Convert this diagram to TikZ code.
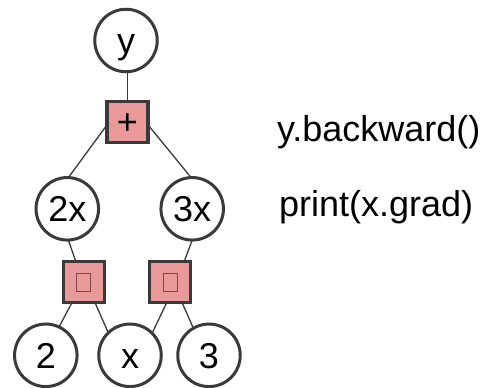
\documentclass[tikz,border=0pt]{standalone}
\usepackage{fontspec}
\setmainfont{Liberation Sans}
\definecolor{edgegray}{HTML}{3A3A3A}
\definecolor{opfill}{HTML}{EA9999}
\definecolor{markline}{HTML}{7A4A4A}
\begin{document}
\begin{tikzpicture}[x=1bp,y=-1bp,
  every node/.style={inner sep=0pt,outer sep=0pt,font=\fontsize{36bp}{43bp}\selectfont},
  valnode/.style={circle,draw=edgegray,line width=3bp,fill=white,minimum size=62.5bp,
    text height=25.8bp,text depth=0bp},
  opnode/.style={rectangle,draw=edgegray,line width=3.2bp,fill=opfill,minimum size=41bp,
    text height=25.8bp,text depth=0bp},
  opmark/.style={rectangle,draw=markline,line width=0.9bp,minimum width=14bp,minimum height=18bp},
  link/.style={draw=edgegray,line width=1.3bp},
  codeline/.style={anchor=base west}]
\useasboundingbox (0,0) rectangle (489,387);

% value and operation nodes
\node[valnode] (yc)  at (126,40.5)   {y};
\node[opnode]  (plus) at (127.5,122) {+};
\node[valnode] (c2x) at (67.3,208.8) {2x};
\node[valnode] (c3x) at (192.2,208.8) {3x};
\node[opnode]  (lsq) at (83.7,282.2) {};
\node[opnode]  (rsq) at (170.3,282.2) {};
\node[opmark]  (lsqm) at (83.7,282.5) {};
\node[opmark]  (rsqm) at (170.3,282.5) {};
\node[valnode] (c2)  at (45.8,355.3) {2};
\node[valnode] (cx)  at (130,355.3)  {x};
\node[valnode] (c3)  at (209,355.3)  {3};

% edges of the graph
\draw[link] (plus.north) -- (plus.north |- yc.south);
\draw[link] (plus.188) -- (c2x.88);
\draw[link] (plus.-8) -- (c3x.92);
\draw[link] (c2x.-88) -- (lsq.111);
\draw[link] (c3x.-90) -- (rsq.56);
\draw[link] (lsq.-120) -- (c2.65);
\draw[link] (lsq.-61) -- (cx.134);
\draw[link] (rsq.-100) -- (cx.45);
\draw[link] (rsq.-60) -- (c3.120);

% code next to the graph
\node[codeline] (bw) at (277,141) {y.backward()};
\node[codeline] (pg) at (279,216) {print(x.grad)};
\end{tikzpicture}
\end{document}
